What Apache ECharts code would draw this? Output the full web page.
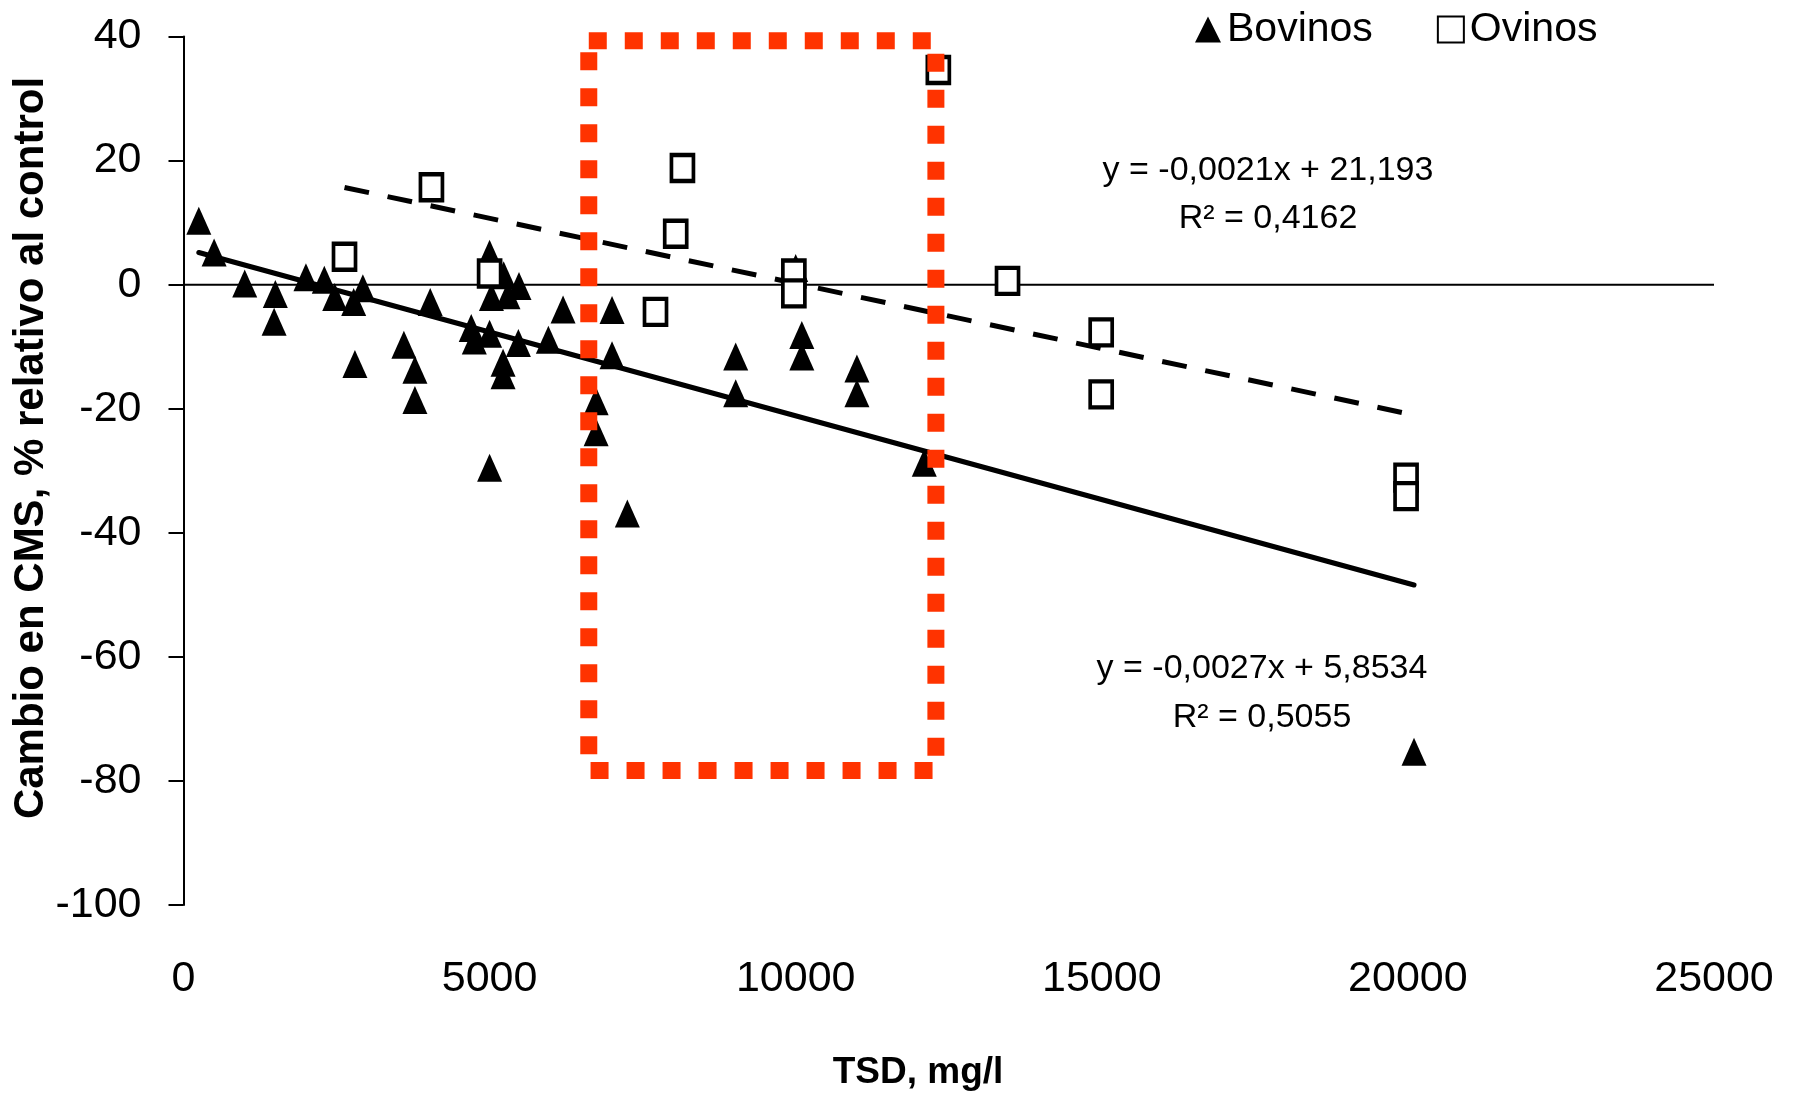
<!DOCTYPE html>
<html>
<head>
<meta charset="utf-8">
<script src="https://cdn.jsdelivr.net/npm/echarts@6/dist/echarts.min.js"></script>
<style>
  html, body { margin: 0; padding: 0; background: #ffffff; }
  #chart { width: 1794px; height: 1094px; }
</style>
</head>
<body>
<div id="chart"></div>
<script>
// Cambio en consumo de materia seca (CMS) frente a sólidos disueltos totales (TSD)

// Bovinos: TSD (mg/l) y cambio en CMS (%)
const bovinosTSD = [250, 500, 1000, 1500, 1480, 2000, 2300, 2470, 2780, 2930,
  2800, 3600, 3780, 3780, 4030, 4700, 4750, 5000, 5000, 5030,
  5300, 5230, 5480, 5220, 5220, 5470, 5960, 6200, 5000, 6740,
  6740, 7000, 7000, 7250, 9020, 9020, 10000, 10100, 10100, 11000,
  11000, 12100, 20100];
const bovinosCMS = [10.3, 5.2, 0.2, -1.5, -6.0, 1.2, 0.8, -2.0, -2.8, -0.6,
  -12.8, -9.7, -13.7, -18.6, -2.8, -7.0, -9.0, 5.0, -7.9, -2.0,
  -1.7, 1.5, -0.2, -12.6, -14.6, -9.4, -8.9, -4.0, -29.5, -18.8,
  -23.8, -4.1, -11.4, -36.9, -11.6, -17.5, 2.7, -8.1, -11.6, -13.5,
  -17.5, -28.7, -75.3];

// Ovinos: TSD (mg/l) y cambio en CMS (%)
const ovinosTSD = [2630, 4050, 5000, 7710, 8040, 8150, 9970, 9970, 12330, 13460,
  14990, 14990, 19970, 19970];
const ovinosCMS = [4.5, 15.7, 1.8, -4.4, 8.2, 18.8, 1.8, -1.4, 34.6, 0.6,
  -7.7, -17.7, -31.1, -34.1];

// Rectas de regresión lineal
const trendBovinos = { slope: -0.0027, intercept: 5.8534, r2: 0.5055 };
const trendOvinos = { slope: -0.0021, intercept: 21.193, r2: 0.4162 };

// Escalas
const xRange = [0, 25000];
const xStep = 5000;
const yRange = [-100, 40];
const yStep = 20;

// Zona resaltada (TSD, CMS)
const highlightTSD = [6620, 12290];
const highlightCMS = [-78.3, 39.3];

const FONT = '"Liberation Sans", Arial, sans-serif';

const zip = (xs, ys) => xs.map((x, i) => [x, ys[i]]);
const fmt = v => String(v).replace('.', ',');
const trendPoints = (t, xs) => {
  const lo = Math.min(...xs), hi = Math.max(...xs);
  return [[lo, t.slope * lo + t.intercept], [hi, t.slope * hi + t.intercept]];
};
const eqText = t => 'y = ' + fmt(t.slope) + 'x + ' + fmt(t.intercept);
const r2Text = t => 'R² = ' + fmt(t.r2);

const chart = echarts.init(document.getElementById('chart'), null, { renderer: 'canvas' });

const labelStyle = { fontFamily: FONT, fontSize: 43, color: '#000' };
const eqStyle = { fontFamily: FONT, fontSize: 34, fill: '#000', align: 'center', verticalAlign: 'middle' };

chart.setOption({
  animation: false,
  backgroundColor: '#ffffff',
  grid: { left: 183.5, right: 80, top: 36.5, bottom: 189, containLabel: false },
  xAxis: {
    type: 'value', min: xRange[0], max: xRange[1], interval: xStep,
    axisLine: { show: false }, axisTick: { show: false }, splitLine: { show: false },
    axisLabel: Object.assign({ margin: 53, formatter: v => String(v) }, labelStyle)
  },
  yAxis: {
    type: 'value', min: yRange[0], max: yRange[1], interval: yStep,
    axisLine: { show: true, onZero: false, lineStyle: { color: '#000', width: 2 } },
    axisTick: { show: true, inside: false, length: 15, lineStyle: { color: '#000', width: 2 } },
    splitLine: { show: false },
    axisLabel: Object.assign({ margin: 42, formatter: v => String(v) }, labelStyle)
  },
  legend: {
    left: 1190, top: 4, itemGap: 64, itemWidth: 26, itemHeight: 26,
    textStyle: { fontFamily: FONT, fontSize: 41, color: '#000', padding: [0, 0, 0, 1] },
    data: [{ name: 'Bovinos', icon: 'triangle' }, { name: 'Ovinos', icon: 'rect' }]
  },
  series: [
    {
      // línea horizontal en CMS = 0
      type: 'line', silent: true, symbol: 'none', z: 1,
      data: [[xRange[0], 0], [xRange[1], 0]],
      lineStyle: { color: '#000', width: 2 }
    },
    {
      type: 'line', silent: true, symbol: 'none', z: 2,
      data: trendPoints(trendBovinos, bovinosTSD),
      lineStyle: { color: '#000', width: 5, cap: 'round' }
    },
    {
      type: 'line', silent: true, symbol: 'none', z: 2, clip: false,
      data: trendPoints(trendOvinos, ovinosTSD),
      lineStyle: { color: '#000', width: 5, type: [25, 19] },
      markArea: {
        silent: true, z: 10,
        itemStyle: {
          color: 'rgba(0,0,0,0)', borderColor: '#ff3300', borderWidth: 17,
          borderType: [18, 18]
        },
        data: [[{ coord: [highlightTSD[0], highlightCMS[1]] }, { coord: [highlightTSD[1], highlightCMS[0]] }]]
      }
    },
    {
      name: 'Bovinos', type: 'scatter', z: 3,
      symbol: 'triangle', symbolSize: [25, 28],
      itemStyle: { color: '#000', opacity: 1 },
      data: zip(bovinosTSD, bovinosCMS)
    },
    {
      name: 'Ovinos', type: 'scatter', z: 4,
      symbol: 'rect', symbolSize: [22, 26],
      itemStyle: { color: '#fff', borderColor: '#000', borderWidth: 4, opacity: 1 },
      data: zip(ovinosTSD, ovinosCMS)
    }
  ],
  graphic: [
    { type: 'text', x: 1268, y: 171, style: Object.assign({ text: eqText(trendOvinos) }, eqStyle) },
    { type: 'text', x: 1268, y: 219, style: Object.assign({ text: r2Text(trendOvinos) }, eqStyle) },
    { type: 'text', x: 1262, y: 669, style: Object.assign({ text: eqText(trendBovinos) }, eqStyle) },
    { type: 'text', x: 1262, y: 718, style: Object.assign({ text: r2Text(trendBovinos) }, eqStyle) },
    { type: 'text', x: 918, y: 1073, style: { text: 'TSD, mg/l', fontFamily: FONT, fontWeight: 'bold', fontSize: 37, fill: '#000', align: 'center', verticalAlign: 'middle' } },
    { type: 'text', x: 31, y: 448, rotation: Math.PI / 2, style: { text: 'Cambio en CMS, % relativo al control', fontFamily: FONT, fontWeight: 'bold', fontSize: 42, fill: '#000', align: 'center', verticalAlign: 'middle' } }
  ]
});
</script>
</body>
</html>
